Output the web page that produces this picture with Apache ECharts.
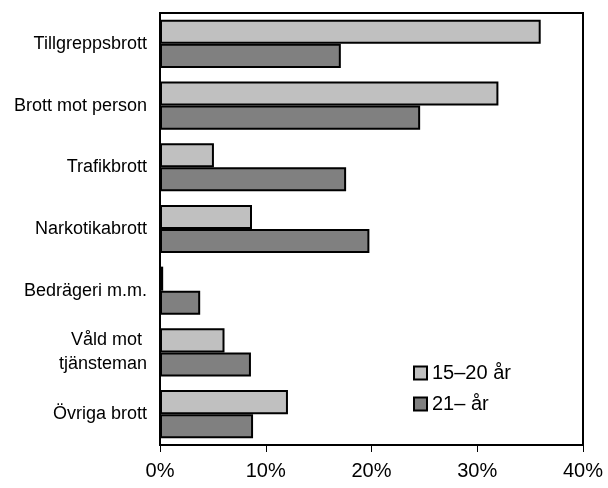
<!DOCTYPE html>
<html lang="sv">
<head>
    <meta charset="UTF-8">
    <title>Brott per åldersgrupp</title>
    <script src="https://cdn.jsdelivr.net/npm/echarts@6/dist/echarts.min.js"></script>
    <style>
        *{
            padding:0;
            margin:0;
        }
        #main{
            width:608px;
            height:488px;
            background:#fff;
        }
    </style>
</head>
<body>
    <div id="main"></div>
    <script>
        var categories=["Tillgreppsbrott","Brott mot person","Trafikbrott","Narkotikabrott","Bedrägeri m.m.","Våld mot \ntjänsteman","Övriga brott"]
        var young=[36,32,5.1,8.7,0.3,6.1,12.1]   // 15–20 år
        var adult=[17.1,24.6,17.6,19.8,3.8,8.6,8.8]  // 21– år
        var xTicks=[0,10,20,30,40]

        var myChart=echarts.init(document.getElementById("main"))
        var font="'Liberation Sans', Arial, sans-serif"

        var option={
            animation:false,
            grid:{
                left:160,
                right:25,
                top:13,
                bottom:43,
                show:true,
                borderColor:"#000",
                borderWidth:2,
            },
            legend:{
                orient:"vertical",
                left:408,
                top:358,
                icon:"rect",
                itemWidth:13,
                itemHeight:13,
                itemGap:11,
                data:["15–20 år","21– år"],
                textStyle:{
                    fontFamily:font,
                    fontSize:20,
                    color:"#000",
                },
            },
            xAxis:{
                type:"value",
                min:xTicks[0],
                max:xTicks[xTicks.length-1],
                interval:10,
                axisLine:{show:true,lineStyle:{color:"#000",width:2}},
                axisTick:{show:true,length:7,lineStyle:{color:"#000"}},
                splitLine:{show:false},
                axisLabel:{
                    formatter:"{value}%",
                    margin:16,
                    fontFamily:font,
                    fontSize:20,
                    color:"#000",
                },
            },
            yAxis:{
                type:"category",
                inverse:true,
                data:categories,
                axisLine:{show:true,lineStyle:{color:"#000",width:2}},
                axisTick:{show:false},
                axisLabel:{
                    margin:13,
                    fontFamily:font,
                    fontSize:18,
                    lineHeight:24,
                    color:"#000",
                },
            },
            series:[
                {
                    name:"15–20 år",
                    type:"bar",
                    data:young,
                    barGap:"0%",
                    barCategoryGap:"22%",
                    itemStyle:{
                        color:"#c0c0c0",
                        borderColor:"#000",
                        borderWidth:2,
                    },
                },
                {
                    name:"21– år",
                    type:"bar",
                    data:adult,
                    itemStyle:{
                        color:"#808080",
                        borderColor:"#000",
                        borderWidth:2,
                    },
                },
            ]
        }

        myChart.setOption(option)
    </script>
</body>
</html>
